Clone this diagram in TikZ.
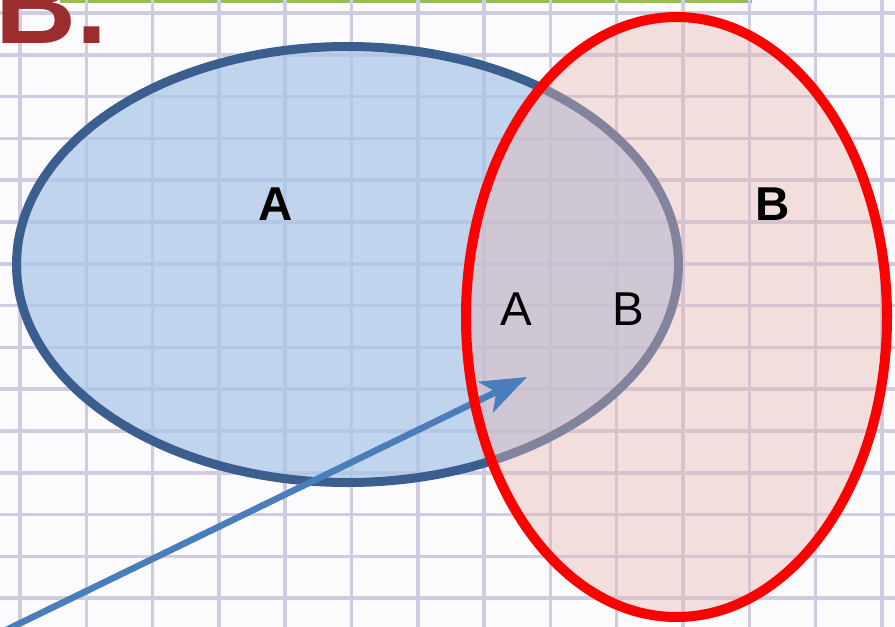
\documentclass[tikz,border=0pt]{standalone}
\usepackage{fontspec}
\setmainfont{Liberation Sans}
\usetikzlibrary{arrows.meta}
\definecolor{bgwhite}{RGB}{251,251,254}
\definecolor{gridc}{RGB}{206,204,224}
\definecolor{greenbar}{RGB}{155,187,89}
\definecolor{titlered}{RGB}{155,45,45}
\definecolor{blueline}{RGB}{58,95,143}
\definecolor{bluefill}{RGB}{167,196,232}
\definecolor{pinkfill}{RGB}{232,182,180}
\definecolor{arrowblue}{RGB}{74,126,187}
\definecolor{purered}{RGB}{255,0,0}
\tikzset{
  gridline/.style={gridc, line width=3.5pt},
  biglabel/.style={inner sep=0pt, font=\fontsize{47.5}{50}\selectfont},
  boldlabel/.style={biglabel, font=\fontsize{47.5}{50}\selectfont\bfseries},
  pointer/.style={arrowblue, line width=6.5pt, -{Stealth[length=46pt, width=34pt, inset=12pt]}},
}
\begin{document}
\begin{tikzpicture}[x=1pt, y=-1pt]
\useasboundingbox (0,0) rectangle (895,627);
\fill[bgwhite] (0,0) rectangle (895,627);
\fill[greenbar] (60,0) rectangle (752,2.5);
% grid
\foreach \k in {0,...,13} {
  \draw[gridline] ({20+66.3*\k},0) -- ({20+66.3*\k},627);
}
\foreach \k in {0,...,14} {
  \draw[gridline] (0,{13+41.8*\k}) -- (895,{13+41.8*\k});
}
% title
\node[anchor=base east, inner sep=0pt, text=titlered,
      font=\fontsize{112}{112}\selectfont\bfseries] (title) at (108,43) {B.};
% centres
\coordinate (ca) at (347.5,264.5);
\coordinate (cb) at (676.5,317);
% set A
\fill[bluefill, fill opacity=0.7] (ca) ellipse [x radius=331pt, y radius=218pt];
\draw[blueline, line width=9pt] (ca) ellipse [x radius=331pt, y radius=218pt];
% set B fill
\fill[pinkfill, fill opacity=0.42] (cb) ellipse [x radius=210.5pt, y radius=300pt];
% arrow
\coordinate (arrowtail) at (0,633);
\coordinate (arrowtip) at (527,377);
\draw[pointer] (arrowtail) -- (arrowtip);
% set B outline
\draw[purered, line width=10pt] (cb) ellipse [x radius=210.5pt, y radius=300pt];
% labels
\node[boldlabel] (labA) at (275.5,204) {A};
\node[boldlabel] (labB) at (773,204) {B};
\node[biglabel] (intA) at (516,309) {A};
\node[biglabel] (intB) at (628.5,309) {B};
\end{tikzpicture}
\end{document}
